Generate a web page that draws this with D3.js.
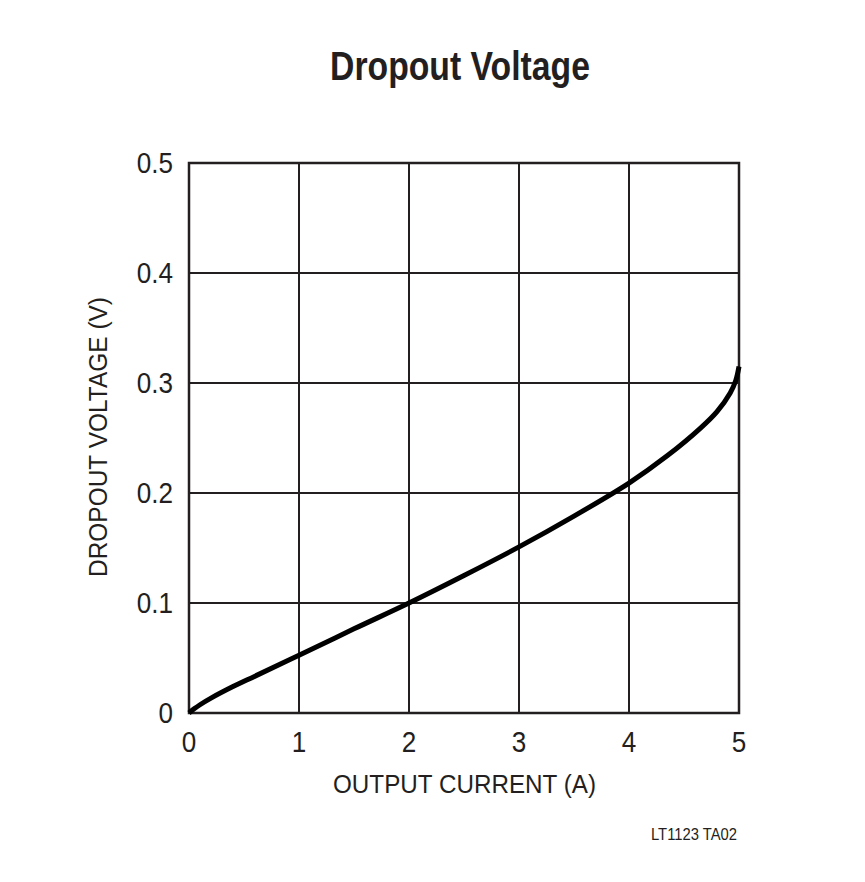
<!DOCTYPE html>
<html>
<head>
<meta charset="utf-8">
<script src="https://cdn.jsdelivr.net/npm/d3@7"></script>
<style>
  body { margin: 0; background: #fff; }
  svg text { font-family: "Liberation Sans", Arial, sans-serif; fill: #231f20; }
</style>
</head>
<body>
<svg width="865" height="882"></svg>
<script>
"use strict";

// values
const current = [0, 0.05, 0.1, 0.2, 0.4, 0.6, 1, 1.5, 2, 2.5, 3, 3.5, 4, 4.35, 4.65, 4.8, 4.92, 4.97, 5];
const voltage = [0, 0.004, 0.0075, 0.0135, 0.024, 0.0335, 0.0525, 0.0765, 0.1, 0.125, 0.151, 0.179, 0.209, 0.234, 0.259, 0.274, 0.291, 0.302, 0.315];
const xTicks = [0, 1, 2, 3, 4, 5];
const yTicks = [0, 0.1, 0.2, 0.3, 0.4, 0.5];

const plotLeft = 189, plotRight = 739, plotTop = 163, plotBottom = 713;

const svg = d3.select("svg");
const xScale = d3.scaleLinear().domain([0, 5]).range([plotLeft, plotRight]);
const yScale = d3.scaleLinear().domain([0, 0.5]).range([plotBottom, plotTop]);

// squeeze a text to the condensed width seen in the reference
function fit(sel, w) {
    sel.attr("textLength", w).attr("lengthAdjust", "spacingAndGlyphs");
}

// grid
svg.append("g")
    .selectAll("line")
    .data(xTicks)
    .join("line")
    .attr("x1", d => xScale(d)).attr("x2", d => xScale(d))
    .attr("y1", plotTop).attr("y2", plotBottom)
    .attr("stroke", "#231f20").attr("stroke-width", 2);
svg.append("g")
    .selectAll("line")
    .data(yTicks)
    .join("line")
    .attr("x1", plotLeft).attr("x2", plotRight)
    .attr("y1", d => yScale(d)).attr("y2", d => yScale(d))
    .attr("stroke", "#231f20").attr("stroke-width", 2);
svg.append("rect")
    .attr("x", plotLeft).attr("y", plotTop)
    .attr("width", plotRight - plotLeft).attr("height", plotBottom - plotTop)
    .attr("fill", "none").attr("stroke", "#231f20").attr("stroke-width", 2.5);

// tick labels
svg.append("g")
    .selectAll("text")
    .data(xTicks)
    .join("text")
    .attr("x", d => xScale(d)).attr("y", 752)
    .attr("text-anchor", "middle")
    .attr("font-size", 29)
    .attr("transform", d => `translate(${xScale(d) * 0.1},0) scale(0.9,1)`)
    .text(d => d);
svg.append("g")
    .selectAll("text")
    .data(yTicks)
    .join("text")
    .attr("x", 173).attr("y", d => yScale(d) + 10.5)
    .attr("text-anchor", "end")
    .attr("font-size", 29)
    .attr("transform", `translate(${173 * 0.1},0) scale(0.9,1)`)
    .text(d => d === 0 ? "0" : d.toFixed(1));

// curve
const line = d3.line()
    .x((d, i) => xScale(current[i]))
    .y((d, i) => yScale(voltage[i]))
    .curve(d3.curveCatmullRom.alpha(0.5));
svg.append("path")
    .attr("d", line(current))
    .attr("fill", "none")
    .attr("stroke", "#000")
    .attr("stroke-width", 5);

// titles
svg.append("text")
    .attr("x", 330).attr("y", 80)
    .attr("font-size", 40).attr("font-weight", "bold")
    .call(fit, 260)
    .text("Dropout Voltage");
svg.append("text")
    .attr("x", 333).attr("y", 793)
    .attr("font-size", 26)
    .call(fit, 263)
    .text("OUTPUT CURRENT (A)");
svg.append("text")
    .attr("transform", "translate(107,577) rotate(-90)")
    .attr("font-size", 26)
    .call(fit, 280)
    .text("DROPOUT VOLTAGE (V)");
svg.append("text")
    .attr("x", 651).attr("y", 840)
    .attr("font-size", 16)
    .call(fit, 86)
    .text("LT1123 TA02");
</script>
</body>
</html>
